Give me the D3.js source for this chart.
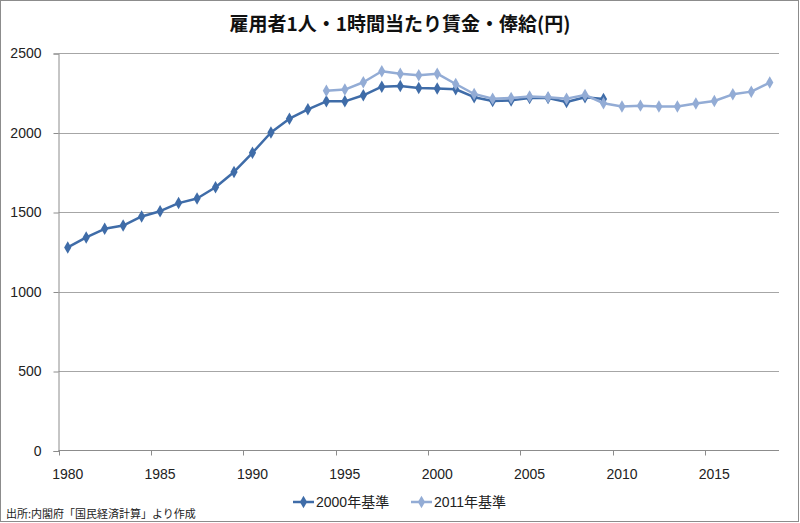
<!DOCTYPE html>
<html>
<head>
<meta charset="utf-8">
<script src="https://cdn.jsdelivr.net/npm/d3@7"></script>
<style>
  body { margin: 0; background: #fff; }
  svg { display: block; }
</style>
</head>
<body>
<script>
// 年（カテゴリ）
const years = d3.range(1980, 2019);
// 2000年基準 (1980-2009)
const base2000 = [1277, 1340, 1394, 1415, 1472, 1505, 1556, 1585, 1656, 1752,
                  1872, 2000, 2087, 2146, 2196, 2196, 2234, 2288, 2293, 2280,
                  2276, 2272, 2222, 2198, 2202, 2217, 2217, 2192, 2222, 2211,
                  null, null, null, null, null, null, null, null, null];
// 2011年基準 (1994-2018)
const base2011 = [null, null, null, null, null, null, null, null, null, null,
                  null, null, null, null, 2263, 2270, 2316, 2385, 2370, 2360,
                  2370, 2305, 2242, 2213, 2217, 2226, 2222, 2213, 2236, 2184,
                  2163, 2169, 2163, 2163, 2182, 2198, 2240, 2257, 2314];
const yTicks = [0, 500, 1000, 1500, 2000, 2500];
const xLabels = [1980, 1985, 1990, 1995, 2000, 2005, 2010, 2015];
const seriesNames = ["2000年基準", "2011年基準"];
const colors = ["#3F6CA8", "#93ACD5"];

const width = 800, height = 523;
const font = "'Liberation Sans', 'Noto Sans CJK JP', sans-serif";
const jpFont = "'Noto Sans CJK JP', sans-serif";

const svg = d3.select("body").append("svg")
    .attr("width", width)
    .attr("height", height);

// 外枠
svg.append("rect")
    .attr("x", 0.5).attr("y", 0.5)
    .attr("width", width - 2).attr("height", height - 2)
    .attr("fill", "#fff")
    .attr("stroke", "#8c8c8c");

const x = d3.scaleBand().domain(years).range([58.5, 779]).padding(0);
const y = d3.scaleLinear().domain([0, 2500]).range([450.5, 53]);
const cx = d => x(d) + x.bandwidth() / 2;

// タイトル
svg.append("text")
    .attr("x", 400).attr("y", 31)
    .attr("text-anchor", "middle")
    .attr("font-family", jpFont)
    .attr("font-weight", "bold")
    .attr("font-size", 19)
    .attr("fill", "#111")
    .text("雇用者1人・1時間当たり賃金・俸給(円)");

// グリッド線
svg.append("g")
    .selectAll("line")
    .data(yTicks.filter(d => d > 0))
    .join("line")
    .attr("x1", 58.5).attr("x2", 779)
    .attr("y1", d => Math.round(y(d)) + 0.5)
    .attr("y2", d => Math.round(y(d)) + 0.5)
    .attr("stroke", "#a6a6a6");

// Y軸
const yAxis = svg.append("g")
    .attr("transform", "translate(58.5,0.5)")
    .call(d3.axisLeft(y).tickValues(yTicks).tickSize(5).tickPadding(12).tickFormat(d3.format("d")));
yAxis.select(".domain").attr("stroke", "#8c8c8c");
yAxis.selectAll(".tick line").attr("stroke", "#8c8c8c");
yAxis.selectAll("text")
    .attr("font-family", font)
    .attr("font-size", 14)
    .attr("fill", "#222");

// X軸
const xAxis = svg.append("g")
    .attr("transform", "translate(0,450.5)");
xAxis.append("line")
    .attr("x1", 58.5).attr("x2", 779)
    .attr("stroke", "#8c8c8c");
xAxis.selectAll("line.tk")
    .data(xLabels)
    .join("line")
    .attr("class", "tk")
    .attr("x1", d => Math.round(x(d)) + 0.5)
    .attr("x2", d => Math.round(x(d)) + 0.5)
    .attr("y1", 0).attr("y2", 5)
    .attr("stroke", "#8c8c8c");
xAxis.selectAll("text")
    .data(xLabels)
    .join("text")
    .attr("x", d => cx(d))
    .attr("y", 28)
    .attr("text-anchor", "middle")
    .attr("font-family", font)
    .attr("font-size", 14)
    .attr("fill", "#222")
    .text(d => d);

// 折れ線
const diamond = d3.symbol().type(d3.symbolDiamond).size(45);
const allSeries = [base2000, base2011];

allSeries.forEach((vals, i) => {
    const pts = years.map((yr, j) => ({ yr, v: vals[j] })).filter(d => d.v != null);
    const line = d3.line().x(d => cx(d.yr)).y(d => y(d.v));
    const g = svg.append("g");
    g.append("path")
        .datum(pts)
        .attr("fill", "none")
        .attr("stroke", colors[i])
        .attr("stroke-width", 2.5)
        .attr("stroke-linejoin", "round")
        .attr("d", line);
    g.selectAll("path.mk")
        .data(pts)
        .join("path")
        .attr("class", "mk")
        .attr("transform", d => `translate(${cx(d.yr)},${y(d.v)})`)
        .attr("d", diamond)
        .attr("fill", colors[i]);
});

// 凡例
const legendX = [293, 411];
seriesNames.forEach((name, i) => {
    const lg = svg.append("g").attr("transform", `translate(${legendX[i]},502)`);
    lg.append("line")
        .attr("x1", 0).attr("x2", 21)
        .attr("stroke", colors[i])
        .attr("stroke-width", 2.5);
    lg.append("path")
        .attr("transform", "translate(10.5,0)")
        .attr("d", diamond)
        .attr("fill", colors[i]);
    lg.append("text")
        .attr("x", 23).attr("y", 5)
        .attr("font-family", font)
        .attr("font-size", 14)
        .attr("fill", "#222")
        .text(name);
});

// 出所
svg.append("text")
    .attr("x", 6).attr("y", 518)
    .attr("font-family", jpFont)
    .attr("font-size", 11)
    .attr("fill", "#222")
    .text("出所:内閣府「国民経済計算」より作成");
</script>
</body>
</html>
